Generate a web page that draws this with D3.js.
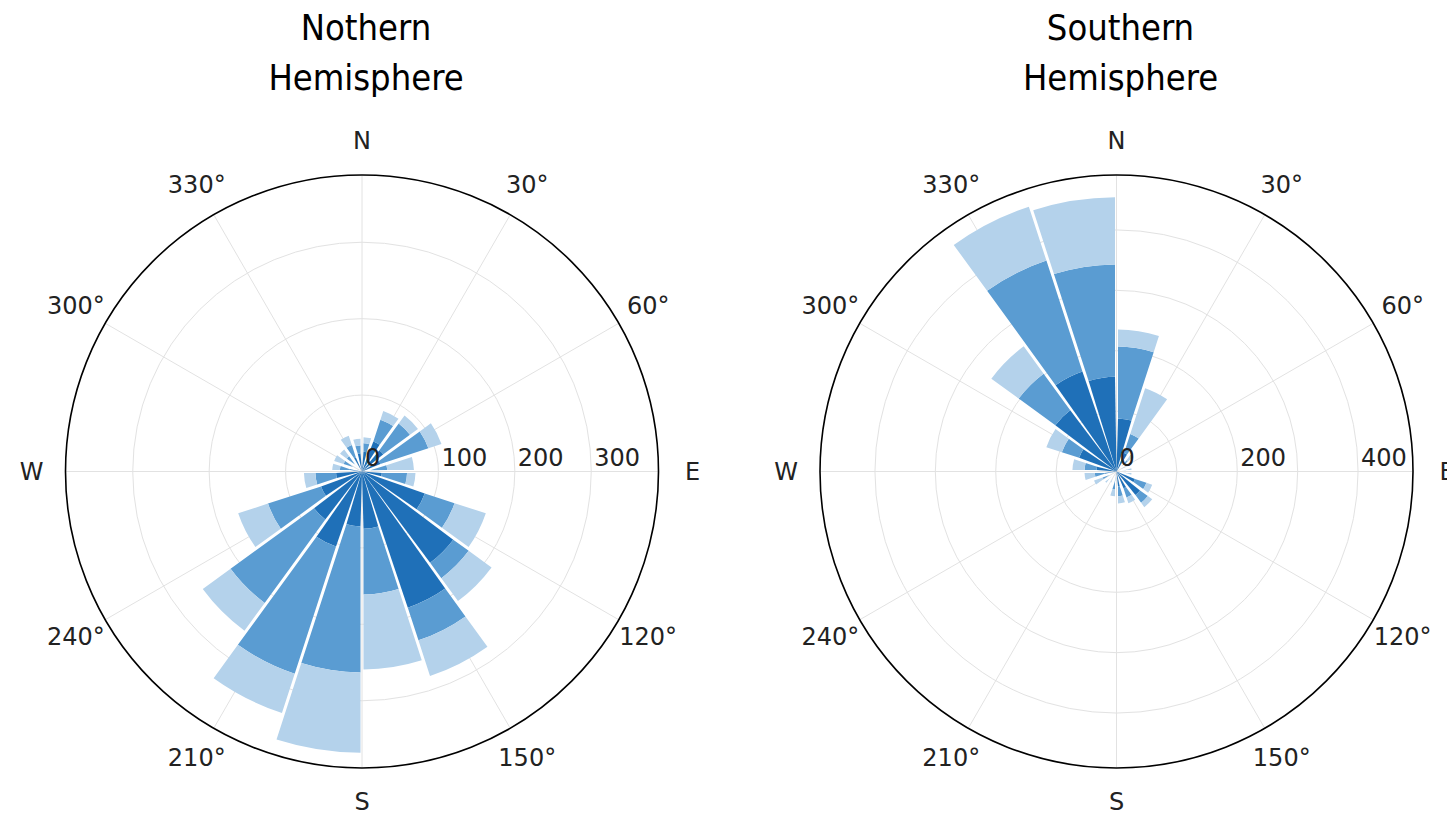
<!DOCTYPE html>
<html><head><meta charset="utf-8">
<script src="https://cdn.jsdelivr.net/npm/d3@7"></script>
<style>body{margin:0;background:#fff;} svg{display:block;}</style>
</head><body><svg id="chart" width="1447" height="813"></svg>
<script>
// ---- data ----
const binStarts = [0,18,36,54,72,90,108,126,144,162,180,198,216,234,252,270,288,306,324,342];
const binWidth = 18;
const seriesKeys = ["dark","mid","light"];

const northDark  = [26,42,36,26,11,26,87,149,188,75,72,104,79,57,34,16,13,13,20,24];
const northMid   = [11,30,43,66,22,33,41,25,45,86,191,175,135,73,27,13,13,13,17,10];
const northLight = [8,12,13,18,35,11,43,37,49,98,105,54,45,41,15,10,13,11,13,9];

const southDark  = [88,33,13,8,8,10,33,50,30,25,17,8,8,13,20,33,66,127,175,157];
const southMid   = [119,33,12,9,9,7,20,16,16,16,13,5,9,12,16,20,30,75,193,186];
const southLight = [28,80,11,8,8,8,10,9,10,12,11,7,8,15,17,20,27,56,94,111];

const northRings = [100,200,300];
const northTickLabels = [0,100,200,300];
const northMax = 388;
const southRings = [100,200,300,400];
const southTickLabels = [0,200,400];
const southMax = 491;

const angleTicks = [0,30,60,90,120,150,180,210,240,270,300,330];
const angleLabels = ["N","30°","60°","E","120°","150°","S","210°","240°","W","300°","330°"];

const titleNorth = ["Nothern","Hemisphere"];
const titleSouth = ["Southern","Hemisphere"];

// ---- drawing ----
const svg = d3.select("#chart");
const R = 296.5;
const colors = {dark:"#1f70b8", mid:"#5a9cd2", light:"#b4d2eb"};

function panel(cx, cy, dark, mid, light, rings, tickLabels, rmax, title) {
  const g = svg.append("g").attr("transform", `translate(${cx},${cy})`);
  const r = d3.scaleLinear().domain([0, rmax]).range([0, R]);
  const a = d3.scaleLinear().domain([0, 360]).range([0, 2 * Math.PI]);

  // grid rings
  g.selectAll("circle.ring").data(rings).join("circle")
    .attr("r", d => r(d)).attr("fill", "none")
    .attr("stroke", "#e2e2e2").attr("stroke-width", 1);
  // spokes
  g.selectAll("line.spoke").data(angleTicks).join("line")
    .attr("x1", 0).attr("y1", 0)
    .attr("x2", d => R * Math.sin(a(d))).attr("y2", d => -R * Math.cos(a(d)))
    .attr("stroke", "#e2e2e2").attr("stroke-width", 1);

  // bars (stacked)
  const rows = binStarts.map((b, i) => ({start: b, dark: dark[i], mid: mid[i], light: light[i]}));
  const stacked = d3.stack().keys(seriesKeys)(rows);
  const arc = d3.arc()
    .innerRadius(d => r(d[0]))
    .outerRadius(d => r(d[1]))
    .startAngle(d => a(d.data.start))
    .endAngle(d => a(d.data.start + binWidth))
    .padAngle(0.03).padRadius(100);
  stacked.forEach(layer => {
    g.append("g").selectAll("path").data(layer).join("path")
      .attr("d", arc).attr("fill", colors[layer.key]);
  });

  // outer circle
  g.append("circle").attr("r", R).attr("fill", "none")
    .attr("stroke", "#000").attr("stroke-width", 1.6);

  // angle labels
  const rl = R + 34;
  g.selectAll("text.ang").data(angleTicks).join("text")
    .attr("x", d => rl * Math.sin(a(d))).attr("y", d => -rl * Math.cos(a(d)))
    .attr("text-anchor", "middle").attr("dominant-baseline", "central")
    .attr("font-family", "DejaVu Sans").attr("font-size", 24).attr("fill", "#222")
    .text((d, i) => angleLabels[i]);

  // radial labels
  g.selectAll("text.rad").data(tickLabels).join("text")
    .attr("x", d => r(d) + 3).attr("y", -6)
    .attr("text-anchor", "start")
    .attr("font-family", "DejaVu Sans").attr("font-size", 24).attr("fill", "#222")
    .text(d => d);

  // title
  const t = svg.append("text").attr("x", cx + 4).attr("text-anchor", "middle")
    .attr("font-family", "DejaVu Sans Condensed, DejaVu Sans").attr("font-stretch", "condensed")
    .attr("font-size", 36).attr("fill", "#000");
  t.append("tspan").attr("x", cx + 4).attr("y", 40).text(title[0]);
  t.append("tspan").attr("x", cx + 4).attr("y", 90).text(title[1]);
}

panel(362, 471.5, northDark, northMid, northLight, northRings, northTickLabels, northMax, titleNorth);
panel(1116.5, 471.5, southDark, southMid, southLight, southRings, southTickLabels, southMax, titleSouth);
</script>
</body></html>
